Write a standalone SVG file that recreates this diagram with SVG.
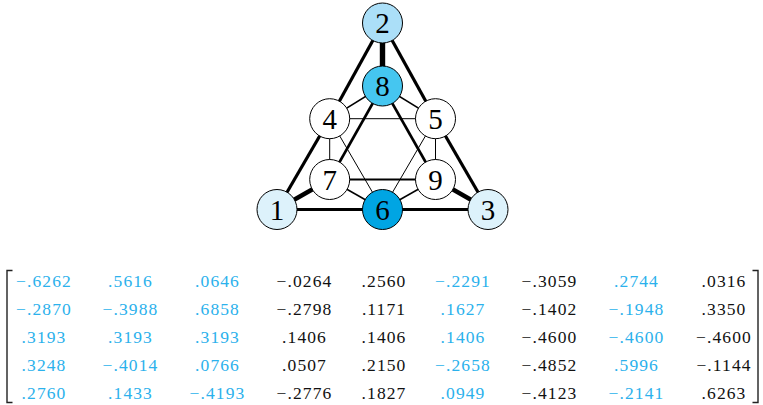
<svg xmlns="http://www.w3.org/2000/svg" width="763" height="405" viewBox="0 0 763 405">
  <style>
    .node circle { stroke: #000; stroke-width: 1; }
    .node text { font-size: 29px; text-anchor: middle; fill: #000; }
    .edges line { stroke: #000; stroke-linecap: butt; }
    .w1 { stroke-width: 1; }
    .w15 { stroke-width: 1.5; }
    .w2 { stroke-width: 2; }
    .w25 { stroke-width: 2.6; }
    .w3 { stroke-width: 3.2; }
    .w4 { stroke-width: 4.4; }
    .w5 { stroke-width: 5.4; }
    .matrix text { font-size: 17.5px; letter-spacing: 1.1px; text-anchor: middle; }
    .c { fill: #2bb1ec; }
    .k { fill: #111; }
    .bracket { fill: none; stroke: #222; stroke-width: 1.4; }
  </style>

  <!-- connectors -->
  <g id="edges" class="edges">
    <!-- outer triangle -->
    <line class="w3" x1="382.5" y1="23" x2="329.7" y2="118.7"/>
    <line class="w3" x1="329.7" y1="118.7" x2="277" y2="209.5"/>
    <line class="w3" x1="382.5" y1="23" x2="435.5" y2="118.7"/>
    <line class="w3" x1="435.5" y1="118.7" x2="488" y2="209.5"/>
    <line class="w3" x1="277" y1="209.5" x2="382.5" y2="209.5"/>
    <line class="w3" x1="382.5" y1="209.5" x2="488" y2="209.5"/>
    <!-- spokes from the corners -->
    <line class="w5" x1="382.5" y1="23" x2="382.5" y2="86"/>
    <line class="w4" x1="277" y1="209.5" x2="329.7" y2="179.5"/>
    <line class="w4" x1="488" y1="209.5" x2="435.5" y2="179.5"/>
    <!-- inner triangle 8-7-9 -->
    <line class="w25" x1="382.5" y1="86" x2="329.7" y2="179.5"/>
    <line class="w25" x1="382.5" y1="86" x2="435.5" y2="179.5"/>
    <line class="w2" x1="329.7" y1="179.5" x2="435.5" y2="179.5"/>
    <!-- hexagon ring -->
    <line class="w15" x1="329.7" y1="118.7" x2="382.5" y2="86"/>
    <line class="w15" x1="382.5" y1="86" x2="435.5" y2="118.7"/>
    <line class="w15" x1="329.7" y1="179.5" x2="382.5" y2="209.5"/>
    <line class="w15" x1="382.5" y1="209.5" x2="435.5" y2="179.5"/>
    <line class="w1" x1="329.7" y1="118.7" x2="329.7" y2="179.5"/>
    <line class="w1" x1="435.5" y1="118.7" x2="435.5" y2="179.5"/>
    <!-- inner triangle 4-5-6 -->
    <line class="w1" x1="329.7" y1="118.7" x2="435.5" y2="118.7"/>
    <line class="w1" x1="329.7" y1="118.7" x2="382.5" y2="209.5"/>
    <line class="w1" x1="435.5" y1="118.7" x2="382.5" y2="209.5"/>
  </g>

  <!-- nodes -->
  <g font-family="Liberation Serif, Times New Roman, serif">
    <g id="node-2" class="node"><circle cx="382.5" cy="23" r="20" fill="#abdff8"/><text x="382.5" y="33">2</text></g>
    <g id="node-8" class="node"><circle cx="382.5" cy="86" r="20" fill="#45c6f0"/><text x="382.5" y="96">8</text></g>
    <g id="node-4" class="node"><circle cx="329.7" cy="118.7" r="20" fill="#fff"/><text x="329.7" y="128.7">4</text></g>
    <g id="node-5" class="node"><circle cx="435.5" cy="118.7" r="20" fill="#fff"/><text x="435.5" y="128.7">5</text></g>
    <g id="node-7" class="node"><circle cx="329.7" cy="179.5" r="20" fill="#fff"/><text x="329.7" y="189.5">7</text></g>
    <g id="node-9" class="node"><circle cx="435.5" cy="179.5" r="20" fill="#fff"/><text x="435.5" y="189.5">9</text></g>
    <g id="node-1" class="node"><circle cx="277" cy="209.5" r="20" fill="#ddf2fb"/><text x="277" y="219.5">1</text></g>
    <g id="node-6" class="node"><circle cx="382.5" cy="209.5" r="20" fill="#00a5e3"/><text x="382.5" y="219.5">6</text></g>
    <g id="node-3" class="node"><circle cx="488" cy="209.5" r="20" fill="#ddf2fb"/><text x="488" y="219.5">3</text></g>
  </g>

  <!-- matrix -->
  <g id="matrix" class="matrix" font-family="Liberation Serif, Times New Roman, serif">
    <path class="bracket" d="M12.5,270.5 H7 V402.5 H12.5"/>
    <path class="bracket" d="M752.5,270.5 H758 V402.5 H752.5"/>

    <text class="c" x="44" y="287.3">−.6262</text>
    <text class="c" x="130.5" y="287.3">.5616</text>
    <text class="c" x="217.5" y="287.3">.0646</text>
    <text class="k" x="304.5" y="287.3">−.0264</text>
    <text class="k" x="384" y="287.3">.2560</text>
    <text class="c" x="463" y="287.3">−.2291</text>
    <text class="k" x="549.5" y="287.3">−.3059</text>
    <text class="c" x="636.5" y="287.3">.2744</text>
    <text class="k" x="724" y="287.3">.0316</text>

    <text class="c" x="44" y="315">−.2870</text>
    <text class="c" x="130.5" y="315">−.3988</text>
    <text class="c" x="217.5" y="315">.6858</text>
    <text class="k" x="304.5" y="315">−.2798</text>
    <text class="k" x="384" y="315">.1171</text>
    <text class="c" x="463" y="315">.1627</text>
    <text class="k" x="549.5" y="315">−.1402</text>
    <text class="c" x="636.5" y="315">−.1948</text>
    <text class="k" x="724" y="315">.3350</text>

    <text class="c" x="44" y="343.3">.3193</text>
    <text class="c" x="130.5" y="343.3">.3193</text>
    <text class="c" x="217.5" y="343.3">.3193</text>
    <text class="k" x="304.5" y="343.3">.1406</text>
    <text class="k" x="384" y="343.3">.1406</text>
    <text class="c" x="463" y="343.3">.1406</text>
    <text class="k" x="549.5" y="343.3">−.4600</text>
    <text class="c" x="636.5" y="343.3">−.4600</text>
    <text class="k" x="724" y="343.3">−.4600</text>

    <text class="c" x="44" y="371.3">.3248</text>
    <text class="c" x="130.5" y="371.3">−.4014</text>
    <text class="c" x="217.5" y="371.3">.0766</text>
    <text class="k" x="304.5" y="371.3">.0507</text>
    <text class="k" x="384" y="371.3">.2150</text>
    <text class="c" x="463" y="371.3">−.2658</text>
    <text class="k" x="549.5" y="371.3">−.4852</text>
    <text class="c" x="636.5" y="371.3">.5996</text>
    <text class="k" x="724" y="371.3">−.1144</text>

    <text class="c" x="44" y="399.3">.2760</text>
    <text class="c" x="130.5" y="399.3">.1433</text>
    <text class="c" x="217.5" y="399.3">−.4193</text>
    <text class="k" x="304.5" y="399.3">−.2776</text>
    <text class="k" x="384" y="399.3">.1827</text>
    <text class="c" x="463" y="399.3">.0949</text>
    <text class="k" x="549.5" y="399.3">−.4123</text>
    <text class="c" x="636.5" y="399.3">−.2141</text>
    <text class="k" x="724" y="399.3">.6263</text>
  </g>
</svg>
